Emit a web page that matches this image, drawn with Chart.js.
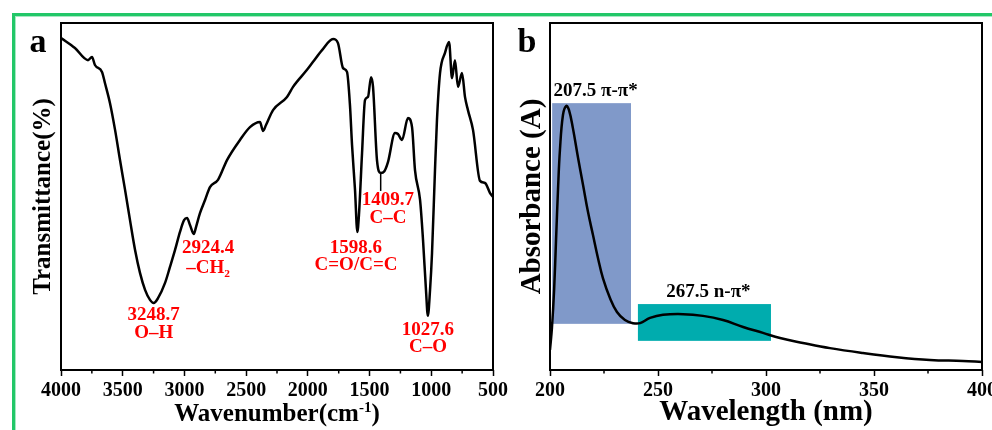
<!DOCTYPE html>
<html>
<head>
<meta charset="utf-8">
<script src="https://cdn.jsdelivr.net/npm/chart.js@4.4.0/dist/chart.umd.min.js"></script>
<style>
  body { margin: 0; background: #fff; }
  #wrap { position: relative; width: 992px; height: 430px; overflow: hidden; background: #fff; }
  #frame { position: absolute; left: 12px; top: 13px; width: 1000px; height: 440px;
           border-left: 3px solid #22c768; border-top: 3px solid #22c768;
           box-shadow: inset 1px 1px 0 #a6e9c3; }
  #ftir { position: absolute; left: 0; top: 0; }
  #uv { position: absolute; left: 500px; top: 0; }
</style>
</head>
<body>
<div id="wrap">
  <div id="frame"></div>
  <canvas id="ftir" width="530" height="430"></canvas>
  <canvas id="uv" width="492" height="430"></canvas>
</div>
<script>
// Panel a: FTIR spectrum
const wavenumbers = [4000, 3887, 3781, 3749, 3725, 3668, 3644, 3603, 3562, 3522, 3481, 3441, 3400, 3360, 3319, 3279,
  3249, 3214, 3157, 3117, 3076, 3036, 3003, 2979, 2955, 2924, 2906, 2874, 2833, 2793, 2728, 2655, 2550, 2469, 2388,
  2363, 2339, 2282, 2169, 2120, 2007, 1958, 1885, 1796, 1756, 1715, 1683, 1659, 1642, 1618, 1599, 1586, 1561, 1537,
  1513, 1488, 1472, 1440, 1410, 1380, 1351, 1294, 1270, 1237, 1189, 1156, 1132, 1091, 1067, 1043, 1028, 1010, 994,
  970, 954, 929, 889, 856, 832, 808, 784, 751, 727, 703, 662, 605, 565, 524, 500];
const transmittance = [95.7, 92.8, 89.3, 90.2, 87.9, 85.9, 82.7, 76.9, 69.2, 60.5, 51.9, 43.2, 34.6, 28.0, 23.1, 20.2,
  19.3, 20.7, 25.1, 29.7, 34.6, 39.8, 43.2, 43.8, 41.8, 39.2, 41.2, 45.2, 49.0, 52.7, 54.8, 60.5, 66.3, 70.0, 71.5,
  68.9, 70.6, 74.9, 78.7, 81.6, 86.5, 88.8, 92.2, 95.4, 94.2, 87.0, 85.9, 76.4, 64.8, 51.9, 39.8, 44.7, 62.5, 77.8,
  78.7, 84.4, 81.6, 60.5, 56.8, 57.3, 59.9, 68.3, 68.0, 66.3, 72.6, 70.0, 57.6, 49.0, 37.5, 23.1, 15.6, 23.1, 33.7,
  57.6, 72.0, 85.6, 91.4, 94.5, 84.1, 89.3, 81.6, 85.6, 78.7, 74.9, 69.2, 54.5, 53.9, 51.0, 49.9];
const ftirTicks = [4000, 3500, 3000, 2500, 2000, 1500, 1000, 500];
const peakNames = ['3248.7', '2924.4', '1598.6', '1409.7', '1027.6'];
const peakGroups = ['O–H', '–CH|2', 'C=O/C=C', 'C–C', 'C–O'];

// Panel b: UV-Vis spectrum
const wavelengths = [200, 200.9, 201.9, 202.8, 203.7, 204.6, 206.0, 207.5, 208.8, 210.6, 213.0, 215.3, 217.6, 219.9,
  222.2, 224.5, 227.8, 231.0, 234.7, 238.4, 241.7, 246.3, 252.3, 261.6, 270.8, 280.1, 289.4, 298.6, 306.5, 317.1,
  329.6, 344.9, 360.6, 375.9, 391.2, 400];
const absorbance = [0.058, 0.121, 0.231, 0.375, 0.519, 0.634, 0.735, 0.761, 0.749, 0.697, 0.611, 0.533, 0.455, 0.389,
  0.323, 0.265, 0.207, 0.167, 0.144, 0.135, 0.135, 0.150, 0.159, 0.161, 0.156, 0.144, 0.124, 0.107, 0.092, 0.078,
  0.063, 0.049, 0.037, 0.029, 0.026, 0.023];
const uvTicks = [200, 250, 300, 350, 400];
const bandNames = ['207.5 π-π*', '267.5 n-π*'];
const bandFrom = [201, 240.7];
const bandTo = [237.5, 302.3];
const bandLow = [0.133, 0.084];
const bandHigh = [0.769, 0.190];

const serif = "'Liberation Serif', 'Times New Roman', serif";
const bandColors = ['#8099c9', '#00acae'];

// where the red peak labels sit (wavenumber of label centre, value of each line centre)
const peakLabelAt = [
  { x: 3249, y: [15.9, 10.7] },
  { x: 2809, y: [35.2, 29.4] },
  { x: 1610, y: [35.2, 30.2] },
  { x: 1351, y: [49.0, 43.8] },
  { x: 1027, y: [11.5, 6.6] }
];

// draw text with an optional subscript after "|" or superscript between "^"
function richText(ctx, text, cx, cy, size) {
  let main = text, small = '', shift = 0;
  if (text.includes('|')) { [main, small] = text.split('|'); shift = size * 0.3; }
  let tail = '';
  if (text.includes('^')) { const p = text.split('^'); main = p[0]; small = p[1]; tail = p[2] || ''; shift = -size * 0.38; }
  ctx.font = `bold ${size}px ${serif}`;
  const w1 = ctx.measureText(main).width;
  const w3 = ctx.measureText(tail).width;
  ctx.font = `bold ${size * 0.6}px ${serif}`;
  const w2 = ctx.measureText(small).width;
  let x = cx - (w1 + w2 + w3) / 2;
  ctx.textAlign = 'left';
  ctx.font = `bold ${size}px ${serif}`;
  ctx.fillText(main, x, cy);
  ctx.font = `bold ${size * 0.6}px ${serif}`;
  ctx.fillText(small, x + w1, cy + shift);
  ctx.font = `bold ${size}px ${serif}`;
  ctx.fillText(tail, x + w1 + w2, cy);
}

const framePlugin = {
  id: 'frame',
  afterDraw(chart) {
    const { ctx, chartArea: a, scales: { x } } = chart;
    ctx.save();
    ctx.strokeStyle = '#000';
    ctx.lineWidth = 2;
    ctx.strokeRect(a.left, a.top, a.right - a.left, a.bottom - a.top);
    // minor ticks halfway between the labelled ones
    ctx.lineWidth = 1.5;
    const t = x.ticks.map(k => k.value);
    for (let i = 1; i < t.length; i++) {
      const px = x.getPixelForValue((t[i - 1] + t[i]) / 2);
      ctx.beginPath();
      ctx.moveTo(px, a.bottom);
      ctx.lineTo(px, a.bottom + 3.5);
      ctx.stroke();
    }
    ctx.restore();
  }
};

const ftirLabels = {
  id: 'ftirLabels',
  afterDraw(chart) {
    const { ctx, scales: { x, y } } = chart;
    ctx.save();
    ctx.fillStyle = '#ff0000';
    ctx.textBaseline = 'middle';
    peakNames.forEach((name, i) => {
      const pos = peakLabelAt[i];
      const cx = x.getPixelForValue(pos.x);
      richText(ctx, name, cx, y.getPixelForValue(pos.y[0]), 19);
      richText(ctx, peakGroups[i], cx, y.getPixelForValue(pos.y[1]), 19);
    });
    // leader line for the 1409.7 band
    const lx = x.getPixelForValue(1410);
    ctx.strokeStyle = '#000';
    ctx.lineWidth = 1.5;
    ctx.beginPath();
    ctx.moveTo(lx, y.getPixelForValue(56.5));
    ctx.lineTo(lx, y.getPixelForValue(51.6));
    ctx.stroke();
    // panel letter and x title
    ctx.fillStyle = '#000';
    ctx.textBaseline = 'alphabetic';
    ctx.textAlign = 'center';
    ctx.font = `bold 34px ${serif}`;
    ctx.fillText('a', 38, 52);
    richText(ctx, 'Wavenumber(cm^-1^)', 277, 421, 25);
    ctx.restore();
  }
};

const uvBands = {
  id: 'uvBands',
  beforeDatasetsDraw(chart) {
    const { ctx, scales: { x, y } } = chart;
    ctx.save();
    bandNames.forEach((name, i) => {
      const l = x.getPixelForValue(bandFrom[i]), r = x.getPixelForValue(bandTo[i]);
      const t = y.getPixelForValue(bandHigh[i]), b = y.getPixelForValue(bandLow[i]);
      ctx.fillStyle = bandColors[i];
      ctx.fillRect(l, t, r - l, b - t);
      ctx.fillStyle = '#000';
      ctx.textAlign = 'center';
      ctx.textBaseline = 'alphabetic';
      ctx.font = `bold 19px ${serif}`;
      ctx.fillText(name, (l + r) / 2 + 4, t - 7);
    });
    ctx.font = `bold 34px ${serif}`;
    ctx.fillText('b', 27, 52);
    ctx.restore();
  }
};

const tickFont = { family: serif, size: 20, weight: 'bold' };

function fixX(s) { s.height = 60; s.paddingLeft = 0; s.paddingRight = 0; }

new Chart(document.getElementById('ftir'), {
  type: 'line',
  data: {
    datasets: [{
      data: wavenumbers.map((w, i) => ({ x: w, y: transmittance[i] })),
      borderColor: '#000',
      borderWidth: 2.5,
      pointRadius: 0,
      cubicInterpolationMode: 'monotone'
    }]
  },
  options: {
    responsive: false,
    animation: false,
    events: [],
    layout: { padding: { left: 0, top: 23, right: 37, bottom: 0 } },
    plugins: { legend: { display: false }, tooltip: { enabled: false } },
    scales: {
      x: {
        type: 'linear', reverse: true, min: 500, max: 4000,
        afterBuildTicks: s => { s.ticks = ftirTicks.map(v => ({ value: v })); },
        afterFit: fixX,
        ticks: { font: tickFont, color: '#000', padding: 3, maxRotation: 0, autoSkip: false, callback: v => String(v) },
        grid: { drawOnChartArea: false, tickLength: 6, tickWidth: 1.5, tickColor: '#000' },
        border: { display: false }
      },
      y: {
        min: 0, max: 100,
        afterFit: s => { s.width = 61; },
        ticks: { display: false },
        grid: { display: false },
        border: { display: false },
        title: { display: true, text: 'Transmittance(%)', color: '#000',
                 font: { family: serif, size: 25, weight: 'bold' }, padding: { top: 29, bottom: 0 } }
      }
    }
  },
  plugins: [framePlugin, ftirLabels]
});

new Chart(document.getElementById('uv'), {
  type: 'line',
  data: {
    datasets: [{
      data: wavelengths.map((w, i) => ({ x: w, y: absorbance[i] })),
      borderColor: '#000',
      borderWidth: 2.5,
      pointRadius: 0,
      tension: 0.4
    }]
  },
  options: {
    responsive: false,
    animation: false,
    events: [],
    layout: { padding: { left: 0, top: 23, right: 10, bottom: 0 } },
    plugins: { legend: { display: false }, tooltip: { enabled: false } },
    scales: {
      x: {
        type: 'linear', min: 200, max: 400,
        afterBuildTicks: s => { s.ticks = uvTicks.map(v => ({ value: v })); },
        afterFit: fixX,
        ticks: { font: tickFont, color: '#000', padding: 3, maxRotation: 0, autoSkip: false, callback: v => String(v) },
        grid: { drawOnChartArea: false, tickLength: 6, tickWidth: 1.5, tickColor: '#000' },
        border: { display: false },
        title: { display: true, text: 'Wavelength (nm)', color: '#000',
                 font: { family: serif, size: 29, weight: 'bold' }, padding: { top: 0, bottom: 0 } }
      },
      y: {
        min: 0, max: 1,
        afterFit: s => { s.width = 50; },
        ticks: { display: false },
        grid: { display: false },
        border: { display: false },
        title: { display: true, text: 'Absorbance (A)', color: '#000',
                 font: { family: serif, size: 29, weight: 'bold' }, padding: { top: 15, bottom: 0 } }
      }
    }
  },
  plugins: [uvBands, framePlugin]
});
</script>
</body>
</html>
